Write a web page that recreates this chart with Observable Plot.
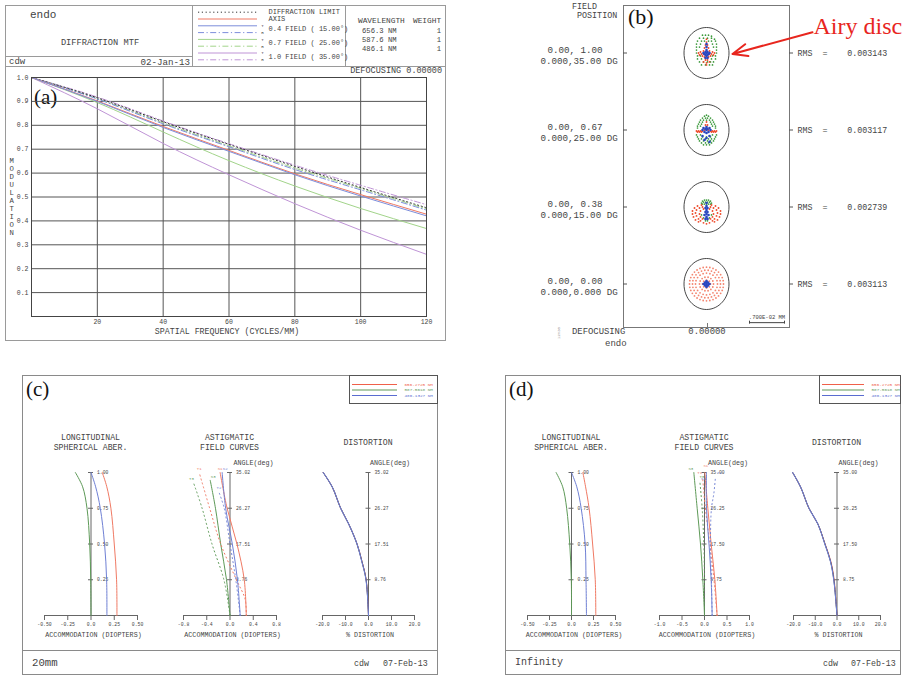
<!DOCTYPE html>
<html><head><meta charset="utf-8">
<script src="https://cdn.jsdelivr.net/npm/d3@7"></script>
<script src="https://cdn.jsdelivr.net/npm/@observablehq/plot@0.6"></script>
<style>
html,body{margin:0;padding:0;background:#fff;}
#root{position:relative;width:907px;height:677px;overflow:hidden;font-family:"Liberation Mono",monospace;color:#444;background:#fff;}
.t{position:absolute;white-space:pre;line-height:1;}
.bx{position:absolute;box-sizing:border-box;}
svg text{white-space:pre;}
</style></head><body><div id="root"></div>
<script>
// ======================= DATA =======================
// (a) Diffraction MTF
const mtfFreq      = [0, 20, 40, 60, 80, 100, 120];
const mtfDiffLimit = [1.0, 0.915, 0.815, 0.720, 0.628, 0.540, 0.455];
const mtfAxis      = [1.0, 0.902, 0.795, 0.695, 0.597, 0.510, 0.428];
const mtf04T       = [1.0, 0.900, 0.791, 0.691, 0.593, 0.504, 0.421];
const mtf04R       = [1.0, 0.910, 0.806, 0.710, 0.615, 0.530, 0.445];
const mtf07T       = [1.0, 0.895, 0.772, 0.652, 0.546, 0.452, 0.368];
const mtf07R       = [1.0, 0.912, 0.810, 0.714, 0.621, 0.536, 0.450];
const mtf10T       = [1.0, 0.869, 0.724, 0.593, 0.472, 0.361, 0.260];
const mtf10R       = [1.0, 0.918, 0.818, 0.723, 0.633, 0.549, 0.468];
const mtfXTicks = [20, 40, 60, 80, 100, 120];
const mtfYTicks = [0.1, 0.2, 0.3, 0.4, 0.5, 0.6, 0.7, 0.8, 0.9, 1.0];
const mtfWavelengths = ["656.3 NM", "587.6 NM", "486.1 NM"];
const mtfWeights = ["1", "1", "1"];
const mtfLegendLabels = ["DIFFRACTION LIMIT", "AXIS", "0.4 FIELD ( 15.00°)", "0.7 FIELD ( 25.00°)", "1.0 FIELD ( 35.00°)"];

// (b) Spot diagram (offsets in units of 0.2 µm, y down)
const spotFields = ["1.00", "0.67", "0.38", "0.00"];
const fieldLine1 = ["0.00, 1.00", "0.00, 0.67", "0.00, 0.38", "0.00, 0.00"];
const fieldLine2 = ["0.000,35.00 DG", "0.000,25.00 DG", "0.000,15.00 DG", "0.000,0.000 DG"];
const rmsValues  = ["0.003143", "0.003117", "0.002739", "0.003113"];
const spot100Green = [[-4,-18],[-1,-18],[2,-18],[5,-17],[-7,-15],[-3,-15],[1,-15],[5,-15],[8,-14],[-9,-12],[-5,-12],[-2,-12],[2,-12],[5,-12],[9,-12],[-10,-9],[-6,-9],[6,-9],[10,-9],[-10,-6],[-7,-6],[7,-6],[10,-6],[-10,-3],[10,-3],[-10,0],[10,0],[-9,3],[-6,3],[6,3],[9,3],[-9,6],[-5,6],[5,6],[9,6],[-7,9],[-3,9],[1,9],[4,9],[7,9],[-5,12],[-1,12],[3,12],[6,12]];
const spot100Red = [[0,-14],[0,-11],[-1,-8],[1,-8],[-2,-5],[2,-5],[-3,-2],[3,-2],[-3,1],[3,1],[-2,4],[2,4],[-1,7],[1,7],[0,10],[-8,0],[-6,-1],[-5,1],[5,1],[6,-1],[8,0],[-7,2],[7,2],[-4,3],[4,3],[-3,9],[3,9],[0,12]];
const spot100Blue = [[0,-9],[0,-6],[0,-3],[-1,-1],[1,-1],[0,0],[-2,1],[2,1],[-1,2],[1,2],[0,3],[-3,0],[3,0],[-1,5],[1,5]];
const spot067Green = [[0,-15],[-2,-14],[2,-14],[-4,-12],[-1,-12],[1,-12],[4,-12],[-6,-10],[-3,-10],[0,-10],[3,-10],[6,-10],[-7,-8],[-4,-8],[4,-8],[7,-8],[-8,-6],[-5,-6],[5,-6],[8,-6],[-9,-4],[-6,-4],[6,-4],[9,-4],[-9,-2],[9,-2],[-10,5],[-6,5],[6,5],[10,5],[-9,7],[-4,7],[0,7],[4,7],[9,7],[-8,9],[-5,9],[-1,9],[2,9],[5,9],[8,9],[-7,11],[-3,11],[1,11],[4,11],[7,11],[-5,13],[-1,13],[2,13],[5,13],[-3,15],[0,15],[3,15]];
const spot067Red = [[-10,1],[-8,1],[-6,1],[-4,1],[4,1],[6,1],[8,1],[10,1],[-9,2],[-7,2],[-5,2],[5,2],[7,2],[9,2],[0,-2],[-1,-5],[1,-5],[0,-8],[-2,0],[2,0]];
const spot067Blue = [[0,0],[-1,-1],[1,-1],[-3,-2],[3,-2],[-2,2],[2,2],[0,3],[-4,0],[4,0],[0,-3],[-4,6],[3,6],[0,8],[-2,10],[3,12]];
const spot038Red = [[-5,-2],[-9,-1],[-12,1],[-14,4],[-14,7],[-13,10],[-11,13],[-8,15],[-4,0],[-7,1],[-10,3],[-11,6],[-10,9],[-8,12],[-6,14],[-3,2],[-6,4],[-7,7],[-6,10],[-4,12],[5,-2],[9,-1],[12,1],[14,4],[14,7],[13,10],[11,13],[8,15],[4,0],[7,1],[10,3],[11,6],[10,9],[8,12],[6,14],[3,2],[6,4],[7,7],[6,10],[4,12],[-3,16],[0,17],[3,16]];
const spot038Green = [[0,-7],[-2,-7],[2,-7],[-4,-6],[4,-6],[-3,-5],[-1,-5],[1,-5],[3,-5],[-5,-4],[5,-4],[-4,-3],[-2,-3],[0,-3],[2,-3],[4,-3],[-5,8],[5,8],[-3,11],[3,11],[-1,14],[1,14]];
const spot038Blue = [[0,-4],[0,-1],[-1,1],[1,1],[0,3],[-1,5],[1,5],[0,7],[-2,8],[2,8],[0,10],[-1,12],[1,12]];
const spot000RingRadius = [4, 7, 11, 14, 17];   // on-axis ray rings
const spot000RingCount  = [8, 14, 20, 26, 32];
const spot000Blue = [[0,0],[-2,0],[2,0],[0,-2],[0,2],[-1.5,-1.5],[1.5,-1.5],[-1.5,1.5],[1.5,1.5],[-3,0],[3,0],[0,-3],[0,3]];
const scaleBarUm = 7;            // ".700E-02 MM"
const spotUnitUm = 0.2;

// (c)/(d) aberrations
const lsaXTicks = [-0.5, -0.25, 0, 0.25, 0.5];
const lsaXLabels = ["-0.50", "-0.25", "0.0", "0.25", "0.50"];
const lsaYTicks = [0.25, 0.5, 0.75, 1.0];
const lsaYLabels = ["0.25", "0.50", "0.75", "1.00"];
const legendWaves = ["656.2725 NM", "587.5618 NM", "486.1327 NM"];

// (c) 20mm : [pupil, diopters]
const lsaC_red   = [[0,0.279],[0.25,0.275],[0.5,0.25],[0.75,0.214],[0.9,0.17],[1.0,0.121]];
const lsaC_green = [[0,0],[0.25,-0.003],[0.5,-0.014],[0.75,-0.043],[0.9,-0.09],[1.0,-0.168]];
const lsaC_blue  = [[0,0.171],[0.25,0.168],[0.5,0.146],[0.75,0.1],[0.9,0.05],[1.0,0]];
// [angle, diopters]
const astC_angleTicks = [8.76, 17.51, 26.27, 35.02];
const astC_redS   = [[0,0.28],[8.76,0.245],[17.51,0.12],[26.27,-0.05],[35.02,-0.17]];
const astC_redT   = [[0,0.28],[4,0.26],[8.76,0.11],[17.51,-0.16],[26.27,-0.35],[35.02,-0.53]];
const astC_greenS = [[0,0],[8.76,-0.06],[17.51,-0.16],[26.27,-0.25],[33.1,-0.34]];
const astC_greenT = [[0,0],[8.76,-0.105],[17.51,-0.31],[26.27,-0.48],[32.6,-0.63]];
const astC_blueS  = [[0,0.175],[8.76,0.128],[17.51,0.04],[26.27,-0.075],[35.02,-0.135]];
const astC_blueT  = [[0,0.175],[8.76,0.1],[17.51,0.0],[26.27,-0.1],[30.2,-0.19]];
// [angle, % distortion]
const distC_red   = [[0,0],[8.76,-1.0],[13.2,-2.8],[17.51,-4.95],[22.4,-8.6],[26.27,-12.1],[31.4,-15.7],[35.02,-19.7]];
const distC_green = [[0,0],[8.76,-1.05],[13.2,-2.85],[17.51,-5.0],[22.4,-8.6],[26.27,-12.1],[31.4,-15.7],[35.02,-19.7]];
const distC_blue  = [[0,0],[8.76,-1.1],[13.2,-2.9],[17.51,-5.0],[22.4,-8.6],[26.27,-12.1],[31.4,-15.7],[35.02,-19.7]];

// (d) Infinity
const lsaD_red   = [[0,0.276],[0.25,0.27],[0.5,0.24],[0.75,0.2],[0.9,0.16],[1.0,0.129]];
const lsaD_green = [[0,0],[0.25,-0.002],[0.5,-0.02],[0.75,-0.055],[0.9,-0.1],[1.0,-0.175]];
const lsaD_blue  = [[0,0.17],[0.25,0.165],[0.5,0.155],[0.75,0.11],[0.9,0.06],[1.0,0]];
const astD_angleTicks = [8.75, 17.5, 26.25, 35.0];
const astD_redS   = [[0,0.28],[8.75,0.23],[17.5,0.148],[26.25,0.074],[35,0.007]];
const astD_redT   = [[0,0.28],[8.75,0.21],[17.5,0.12],[26.25,0.02],[33.5,-0.04]];
const astD_greenS = [[0,0],[8.75,-0.037],[17.5,-0.089],[26.25,-0.163],[35,-0.237]];
const astD_greenT = [[0,0],[8.75,0],[17.5,-0.015],[26.25,-0.052],[32.9,-0.104]];
const astD_blueS  = [[0,0.17],[8.75,0.148],[17.5,0.1],[26.25,0.044],[35,0.044]];
const astD_blueT  = [[0,0.17],[8.75,0.155],[17.5,0.133],[26.25,0.155],[29.8,0.207],[33.9,0.244]];
const distD_red   = [[0,0],[8.75,-1.3],[13.2,-2.8],[17.5,-5.45],[22.4,-8.8],[26.25,-12.9],[31.4,-16.7],[35,-20.4]];
const distD_green = [[0,0],[8.75,-1.45],[13.2,-2.95],[17.5,-5.55],[22.4,-8.8],[26.25,-12.9],[31.4,-16.7],[35,-20.4]];
const distD_blue  = [[0,0],[8.75,-1.5],[13.2,-3.0],[17.5,-5.6],[22.4,-8.8],[26.25,-12.9],[31.4,-16.7],[35,-20.4]];

// ======================= HELPERS =======================
const root = document.getElementById("root");
const MONO = "'Liberation Mono', monospace";
const SERIF = "'Liberation Serif', serif";
const TXT = "#444";
function text(s, x, y, size, o = {}) {
  const d = document.createElement("div");
  d.className = "t";
  d.textContent = s;
  d.style.fontSize = size + "px";
  d.style.left = x + "px";
  d.style.top = (y - size * (o.serif ? 0.52 : 0.47)) + "px";
  d.style.fontFamily = o.serif ? SERIF : MONO;
  d.style.color = o.color || TXT;
  if (o.anchor === "middle") d.style.transform = "translateX(-50%)";
  if (o.anchor === "end") d.style.transform = "translateX(-100%)";
  if (o.css) Object.assign(d.style, o.css);
  (o.parent || root).appendChild(d);
  return d;
}
function rect(x1, y1, x2, y2, color = "#888", w = 1) {
  const d = document.createElement("div");
  d.className = "bx";
  Object.assign(d.style, {left: x1 + "px", top: y1 + "px", width: (x2 - x1) + "px", height: (y2 - y1) + "px", border: `${w}px solid ${color}`});
  root.appendChild(d);
  return d;
}
function hline(x1, x2, y, color = "#888") {
  const d = document.createElement("div");
  d.className = "bx";
  Object.assign(d.style, {left: x1 + "px", top: y + "px", width: (x2 - x1) + "px", height: "1px", background: color});
  root.appendChild(d);
}
function vline(x, y1, y2, color = "#888") {
  const d = document.createElement("div");
  d.className = "bx";
  Object.assign(d.style, {left: x + "px", top: y1 + "px", width: "1px", height: (y2 - y1) + "px", background: color});
  root.appendChild(d);
}
function place(node, x, y) {
  node.style.position = "absolute";
  node.style.left = x + "px";
  node.style.top = y + "px";
  node.style.overflow = "visible";
  root.appendChild(node);
}
const baseStyle = {background: "transparent", fontFamily: MONO, color: TXT, overflow: "visible"};

// ======================= PANEL (a) =======================
const RED = "#f07862", BLUE = "#7d8edb", GREEN = "#a2d48a", PURPLE = "#bf94d6";
const RDASH = "6,2.5,1.2,2.5";
const mtfSeries = [
  {key: "diff", values: mtfDiffLimit, color: "#333", dash: "1.2,2.6"},
  {key: "axis", values: mtfAxis, color: RED, dash: null},
  {key: "04T", values: mtf04T, color: BLUE, dash: null},
  {key: "04R", values: mtf04R, color: BLUE, dash: RDASH},
  {key: "07T", values: mtf07T, color: GREEN, dash: null},
  {key: "07R", values: mtf07R, color: GREEN, dash: RDASH},
  {key: "10T", values: mtf10T, color: PURPLE, dash: null},
  {key: "10R", values: mtf10R, color: PURPLE, dash: RDASH}
];
const drawOrder = ["10R","07R","04R","diff","10T","07T","axis","04T"];

rect(5, 5, 446, 341, "#9a9a9a");
rect(5, 5, 193, 67, "#9a9a9a");
rect(192, 5, 346, 67, "#9a9a9a");
rect(345, 5, 446, 67, "#9a9a9a");
hline(5, 193, 56, "#9a9a9a");
text("endo", 30, 15, 11);
text("DIFFRACTION MTF", 100, 43, 8.7, {anchor: "middle"});
text("cdw", 9, 62, 9);
text("02-Jan-13", 190, 62, 9.2, {anchor: "end"});
text("WAVELENGTH", 358, 22, 7.8);
text("WEIGHT", 413, 22, 7.8);
mtfWavelengths.forEach((w, i) => {
  text(w, 362, 31 + i * 9, 7.2);
  text(mtfWeights[i], 441, 31 + i * 9, 7.2, {anchor: "end"});
});
text("DEFOCUSING 0.00000", 442, 71, 8.5, {anchor: "end"});
text("(a)", 34, 98, 21, {serif: true, color: "#111"});
text("MODULATION", 7.5, 160, 7.3, {css: {writingMode: "vertical-lr", textOrientation: "upright"}});
text("SPATIAL FREQUENCY (CYCLES/MM)", 227, 332, 8.3, {anchor: "middle"});

const mtfPlot = Plot.plot({
  width: 440, height: 270, marginLeft: 26, marginRight: 19, marginTop: 7, marginBottom: 24,
  x: {domain: [0, 120]}, y: {domain: [0, 1]},
  style: {...baseStyle, fontSize: "6.5px"},
  marks: [
    Plot.gridX(mtfXTicks.slice(0, -1), {stroke: "#555", strokeOpacity: 1}),
    Plot.gridY(mtfYTicks.slice(0, -1), {stroke: "#555", strokeOpacity: 1}),
    ...drawOrder.map(k => mtfSeries.find(s => s.key === k)).map(s =>
      Plot.line(mtfFreq.map((f, i) => ({f, m: s.values[i]})), {x: "f", y: "m", stroke: s.color, strokeWidth: 1, strokeDasharray: s.dash, curve: "natural"})),
    Plot.frame({stroke: "#444"}),
    Plot.axisX(mtfXTicks, {tickSize: 0, tickPadding: 3, tickFormat: d => String(d), label: null, fontSize: 6.5}),
    Plot.axisY(mtfYTicks, {tickSize: 0, tickPadding: 3, tickFormat: d => d.toFixed(1), label: null, fontSize: 6.5})
  ]
});
place(mtfPlot, 5, 70);

// legend of (a)
const legendA = Plot.plot({
  width: 153, height: 62, marginLeft: 6, marginRight: 88, marginTop: 0, marginBottom: 0,
  x: {domain: [0, 1], axis: null},
  y: {type: "point", domain: mtfSeries.map(s => s.key), range: [6.7, 54.3], padding: 0, round: false, axis: null},
  style: {...baseStyle, fontSize: "6.8px"},
  marks: [
    ...mtfSeries.map(s => Plot.ruleY([s.key], {y: d => d, stroke: s.color, strokeWidth: 1, strokeDasharray: s.dash})),
    Plot.text(["diff", "axis"], {y: d => d, text: (d, i) => mtfLegendLabels[i], frameAnchor: "right", dx: 11, textAnchor: "start", fontSize: 7, fill: TXT}),
    Plot.text(["04T", "07T", "10T"], {y: d => d, text: (d, i) => mtfLegendLabels[i + 2], frameAnchor: "right", dx: 11, dy: 3.4, textAnchor: "start", fontSize: 7, fill: TXT}),
    Plot.text(["04T", "07T", "10T"], {y: d => d, text: () => "T", frameAnchor: "right", dx: 5, textAnchor: "middle", fontSize: 4.2, fill: TXT}),
    Plot.text(["04R", "07R", "10R"], {y: d => d, text: () => "R", frameAnchor: "right", dx: 5, textAnchor: "middle", fontSize: 4.2, fill: TXT})
  ]
});
place(legendA, 192, 5);

// ======================= PANEL (b) =======================
const SPOT_RED = "#ee4a2a", SPOT_GREEN = "#3d9a3d", SPOT_BLUE = "#2a48c0", SPOT_ORANGE = "#f4856f";
const toRows = (field, pts) => pts.map(([x, y]) => ({field, x, y}));
const spotGreen = [...toRows("1.00", spot100Green), ...toRows("0.67", spot067Green), ...toRows("0.38", spot038Green)];
const spotRed = [...toRows("1.00", spot100Red), ...toRows("0.67", spot067Red), ...toRows("0.38", spot038Red)];
const spotBlue = [...toRows("1.00", spot100Blue), ...toRows("0.67", spot067Blue), ...toRows("0.38", spot038Blue), ...toRows("0.00", spot000Blue)];
const spotAxisRings = spot000RingRadius.flatMap((r, k) =>
  d3.range(spot000RingCount[k]).map(j => {
    const a = (j / spot000RingCount[k]) * 2 * Math.PI;
    return {field: "0.00", x: r * Math.cos(a), y: r * Math.sin(a)};
  }));
const airySymbol = {
  draw(ctx) {
    const rx = 22.5, ry = 25.5, k = 0.5523;
    ctx.moveTo(rx, 0);
    ctx.bezierCurveTo(rx, ry * k, rx * k, ry, 0, ry);
    ctx.bezierCurveTo(-rx * k, ry, -rx, ry * k, -rx, 0);
    ctx.bezierCurveTo(-rx, -ry * k, -rx * k, -ry, 0, -ry);
    ctx.bezierCurveTo(rx * k, -ry, rx, -ry * k, rx, 0);
    ctx.closePath();
  }
};
const airyNote = [{field: "1.00", x1: 106, y1: -21, x2: 26, y2: 1, label: "Airy disc"}];
const barLen = scaleBarUm / spotUnitUm;
const scaleBar = [{field: "0.00", x1: 78 - barLen, x2: 78, y: 39}];

rect(623, 5, 790, 328, "#777");
text("(b)", 628, 17, 22, {serif: true, color: "#111"});
text("FIELD", 572, 6.5, 8.4);
text("POSITION", 577, 15.5, 8.4);
text("DEFOCUSING", 572, 332, 8.9);
text("0.00000", 707, 332, 8.9, {anchor: "middle"});
vline(707, 323, 327, "#777");
const endoClip = document.createElement("div");
Object.assign(endoClip.style, {position: "absolute", left: "540px", top: "337px", width: "120px", height: "10px", overflow: "hidden"});
root.appendChild(endoClip);
text("endo", 65, 7, 9, {parent: endoClip});
text("12Y30", 553, 333, 4, {color: "#999", css: {transform: "rotate(-90deg)"}});

const spotPlot = Plot.plot({
  width: 367, height: 322, marginLeft: 83, marginRight: 118, marginTop: 7.2, marginBottom: 4,
  x: {domain: [-83, 83], axis: null},
  y: {domain: [-38.85, 38.85], reverse: true, axis: null},
  fy: {domain: spotFields, padding: 0, axis: null},
  style: {...baseStyle, fontSize: "9px"},
  marks: [
    Plot.dot(spotFields, {fy: d => d, x: 0, y: 0, symbol: airySymbol, stroke: "#333", strokeWidth: 0.9, fill: "none"}),
    Plot.dot(spotAxisRings, {fy: "field", x: "x", y: "y", r: 0.9, fill: SPOT_ORANGE, stroke: "none"}),
    Plot.dot(spotGreen, {fy: "field", x: "x", y: "y", r: 0.85, fill: SPOT_GREEN, stroke: "none"}),
    Plot.dot(spotRed, {fy: "field", x: "x", y: "y", r: 0.95, fill: SPOT_RED, stroke: "none"}),
    Plot.dot(spotBlue, {fy: "field", x: "x", y: "y", r: 1.3, fill: SPOT_BLUE, stroke: "none"}),
    Plot.ruleY(spotFields, {fy: d => d, y: 0, x1: 83, x2: 83, insetRight: -4, stroke: "#555"}),
    Plot.ruleY(spotFields, {fy: d => d, y: 0, x1: -83, x2: -83, insetRight: -4, stroke: "#555"}),
    Plot.text(spotFields, {fy: d => d, frameAnchor: "right", text: (d, i) => `RMS  =    ${rmsValues[i]}`, dx: 8, textAnchor: "start", fontSize: 8.3, fill: TXT}),
    Plot.text(spotFields, {fy: d => d, frameAnchor: "left", text: (d, i) => fieldLine1[i], dx: -76, dy: -2.5, textAnchor: "start", fontSize: 9.2, fill: TXT}),
    Plot.text(spotFields, {fy: d => d, frameAnchor: "left", text: (d, i) => fieldLine2[i], dx: -83, dy: 8.5, textAnchor: "start", fontSize: 9.2, fill: TXT}),
    Plot.ruleY(scaleBar, {fy: "field", y: "y", x1: "x1", x2: "x2", stroke: "#444"}),
    Plot.ruleX(scaleBar, {fy: "field", x: "x1", y1: d => d.y - 1.5, y2: d => d.y + 1.5, stroke: "#444"}),
    Plot.ruleX(scaleBar, {fy: "field", x: "x2", y1: d => d.y - 1.5, y2: d => d.y + 1.5, stroke: "#444"}),
    Plot.text(scaleBar, {fy: "field", x: d => (d.x1 + d.x2) / 2, y: "y", dy: -5, text: () => ".700E-02 MM", fontSize: 5.5, fill: TXT}),
    Plot.arrow(airyNote, {fy: "field", x1: "x1", y1: "y1", x2: "x2", y2: "y2", stroke: "#e8261e", strokeWidth: 2, headLength: 12, headAngle: 45}),
    Plot.text(airyNote, {fy: "field", x: "x1", y: "y1", text: "label", dx: 1, dy: -6, textAnchor: "start", fontSize: 24, fontFamily: SERIF, fill: "#e8261e"})
  ]
});
place(spotPlot, 540, 5);

// ======================= PANELS (c) / (d) =======================
const A_RED = "#f07a64", A_GREEN = "#5e9a58", A_BLUE = "#6f80d4", AXC = "#666";
const legendColors = {"656.2725 NM": "#f0604a", "587.5618 NM": "#5e9a58", "486.1327 NM": "#5a6cd0"};
const TDASH = "1.1,3";
function aberrPlot(cfg) {
  const pad = 14;
  const marks = [
    Plot.ruleY([cfg.yDomain[0]], {stroke: AXC}),
    Plot.axisX(cfg.xTicks, {tickSize: 5, tickPadding: 2, tickFormat: cfg.xFmt, label: null, fontSize: 4.8, stroke: AXC}),
    Plot.ruleX([0], {stroke: AXC}),
    Plot.ruleY(cfg.yTicks, {y: d => d, x1: 0, x2: 0, insetLeft: -2.5, insetRight: -2.5, stroke: AXC}),
    Plot.text(cfg.yTicks, {x: 0, y: d => d, text: cfg.yFmt, dx: 6, textAnchor: "start", fontSize: 4.7, fill: TXT}),
    ...cfg.curves.map(c => Plot.line(c.pts, {x: d => d[1], y: d => d[0], stroke: c.color, strokeWidth: c.width || 1, strokeDasharray: c.dash || null, curve: "catmull-rom"})),
    ...cfg.curves.filter(c => c.tag).map(c => Plot.text([c.pts[c.pts.length - 1]], {x: d => d[1], y: d => d[0], text: () => c.tag, dy: c.tagDy || -4, dx: c.tagDx || 0, fontSize: 4, fill: c.color}))
  ];
  const svg = Plot.plot({
    width: cfg.x2 - cfg.x1 + 2 * pad, height: 175, marginLeft: pad, marginRight: pad, marginTop: 7, marginBottom: 25,
    x: {domain: cfg.xDomain}, y: {domain: cfg.yDomain, axis: null},
    style: {...baseStyle, fontSize: "4.8px"},
    marks
  });
  place(svg, cfg.x1 - pad, 465);
}
function legendBox(x1, x2, lineEnd) {
  rect(x1, 375, x2, 404, "#555");
  const lg = Plot.plot({
    width: x2 - x1, height: 28, marginLeft: 3, marginRight: x2 - lineEnd, marginTop: 0, marginBottom: 0,
    x: {domain: [0, 1], axis: null},
    y: {type: "point", domain: legendWaves, range: [9, 20], padding: 0, round: false, axis: null},
    color: {type: "identity"},
    style: {...baseStyle, fontSize: "4.3px"},
    marks: [
      Plot.ruleY(legendWaves, {y: d => d, stroke: d => legendColors[d], strokeWidth: 1.1}),
      Plot.text(legendWaves, {y: d => d, text: d => d, frameAnchor: "right", dx: 7, textAnchor: "start", fontSize: 4.3, fill: d => legendColors[d]})
    ]
  });
  place(lg, x1, 375);
}
function panel(cfg) {
  rect(cfg.left, 375, cfg.right, 675, "#8a8a8a");
  hline(cfg.left, cfg.right, 650, "#8a8a8a");
  legendBox(cfg.legX1, cfg.right, cfg.legLineEnd);
  text(cfg.tag, cfg.left + 4, 390, 21, {serif: true, color: "#111"});
  text(cfg.name, cfg.left + 10, 663, cfg.nameSize);
  text("cdw", cfg.cdwX, 664, 8.3);
  text("07-Feb-13", cfg.dateX, 664, 8.3);
  const [L, A, D] = cfg.sub;
  text("LONGITUDINAL", (L.x1 + L.x2) / 2, 438, 8.2, {anchor: "middle"});
  text("SPHERICAL ABER.", (L.x1 + L.x2) / 2, 448, 8.2, {anchor: "middle"});
  text("ASTIGMATIC", (A.x1 + A.x2) / 2, 438, 8.2, {anchor: "middle"});
  text("FIELD CURVES", (A.x1 + A.x2) / 2, 448, 8.2, {anchor: "middle"});
  text("DISTORTION", (D.x1 + D.x2) / 2, 443, 8.2, {anchor: "middle"});
  text("ANGLE(deg)", (A.x1 + A.x2) / 2 + 4, 463, 6.7);
  text("ANGLE(deg)", (D.x1 + D.x2) / 2 + 2, 463, 6.7);
  text("ACCOMMODATION (DIOPTERS)", (L.x1 + L.x2) / 2 + 3, 635, 6.7, {anchor: "middle"});
  text("ACCOMMODATION (DIOPTERS)", (A.x1 + A.x2) / 2 + 3, 635, 6.7, {anchor: "middle"});
  text("% DISTORTION", (D.x1 + D.x2) / 2 + 2, 635, 6.7, {anchor: "middle"});
  cfg.sub.forEach(aberrPlot);
}
const fmt1 = d => d.toFixed(1);
const lsaFmt = d => lsaXLabels[lsaXTicks.indexOf(d)];
const lsaYFmt = d => lsaYLabels[lsaYTicks.indexOf(d)];
const fmt2 = d => d.toFixed(2);

panel({
  left: 22, right: 438, legX1: 349, legLineEnd: 397, tag: "(c)", name: "20mm", nameSize: 10.7, cdwX: 354, dateX: 383,
  sub: [
    {x1: 44, x2: 137, xDomain: [-0.5, 0.5], xTicks: lsaXTicks, xFmt: lsaFmt, yDomain: [0, 1], yTicks: lsaYTicks, yFmt: lsaYFmt,
     curves: [{pts: lsaC_green, color: A_GREEN}, {pts: lsaC_blue, color: A_BLUE}, {pts: lsaC_red, color: A_RED}]},
    {x1: 183, x2: 276, xDomain: [-0.8, 0.8], xTicks: [-0.8, -0.4, 0, 0.4, 0.8], xFmt: fmt1, yDomain: [0, 35.02], yTicks: astC_angleTicks, yFmt: fmt2,
     curves: [
       {pts: astC_greenT, color: A_GREEN, dash: TDASH, tag: "T3", tagDx: -2}, {pts: astC_greenS, color: A_GREEN, tag: "S3", tagDx: 3},
       {pts: astC_redT, color: A_RED, dash: TDASH, tag: "T1"}, {pts: astC_redS, color: A_RED, tag: "S1"},
       {pts: astC_blueT, color: A_BLUE, dash: TDASH, tag: "T2"}, {pts: astC_blueS, color: A_BLUE, tag: "S2", tagDx: 3}]},
    {x1: 322, x2: 414, xDomain: [-20, 20], xTicks: [-20, -10, 0, 10, 20], xFmt: fmt1, yDomain: [0, 35.02], yTicks: astC_angleTicks, yFmt: fmt2,
     curves: [{pts: distC_red, color: A_RED}, {pts: distC_green, color: "#333"}, {pts: distC_blue, color: A_BLUE, width: 1.1}]}
  ]
});
panel({
  left: 505, right: 901, legX1: 819, legLineEnd: 864, tag: "(d)", name: "Infinity", nameSize: 10, cdwX: 823, dateX: 851,
  sub: [
    {x1: 527, x2: 615, xDomain: [-0.5, 0.5], xTicks: lsaXTicks, xFmt: lsaFmt, yDomain: [0, 1], yTicks: lsaYTicks, yFmt: lsaYFmt,
     curves: [{pts: lsaD_green, color: A_GREEN}, {pts: lsaD_blue, color: A_BLUE}, {pts: lsaD_red, color: A_RED}]},
    {x1: 659, x2: 749, xDomain: [-1, 1], xTicks: [-1, -0.5, 0, 0.5, 1], xFmt: fmt1, yDomain: [0, 35], yTicks: astD_angleTicks, yFmt: fmt2,
     curves: [
       {pts: astD_greenT, color: A_GREEN, dash: TDASH, tag: "T3", tagDx: 2}, {pts: astD_greenS, color: A_GREEN, tag: "S3", tagDx: -3},
       {pts: astD_redT, color: A_RED, dash: TDASH, tag: "T1", tagDx: -3, tagDy: -6}, {pts: astD_redS, color: A_RED, tag: "S1", tagDx: 1, tagDy: -7},
       {pts: astD_blueT, color: A_BLUE, dash: TDASH, tag: "T2", tagDx: 4}, {pts: astD_blueS, color: A_BLUE, tag: "S2", tagDx: -3, tagDy: 6}]},
    {x1: 793, x2: 880, xDomain: [-20, 20], xTicks: [-20, -10, 0, 10, 20], xFmt: fmt1, yDomain: [0, 35], yTicks: astD_angleTicks, yFmt: fmt2,
     curves: [{pts: distD_red, color: A_RED}, {pts: distD_green, color: "#333"}, {pts: distD_blue, color: A_BLUE, width: 1.1}]}
  ]
});
</script></body></html>
